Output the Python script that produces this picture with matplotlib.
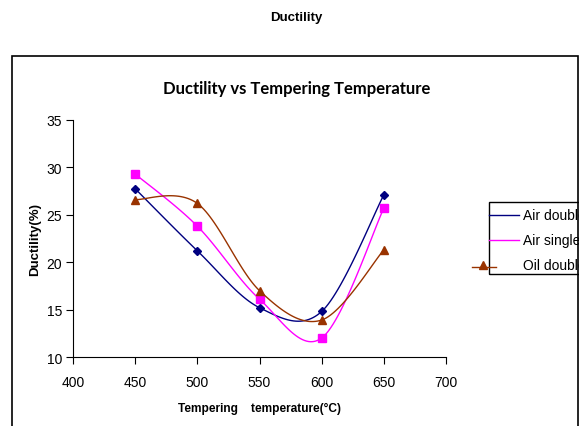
import numpy as np
import matplotlib.pyplot as plt
from matplotlib.patches import Rectangle
from matplotlib.lines import Line2D

temps = [450, 500, 550, 600, 650]
air_double = [27.75, 21.2, 15.2, 14.8, 27.1]
air_single = [29.3, 23.8, 16.1, 12.0, 25.7]
oil_double = [26.6, 26.2, 17.0, 13.9, 21.3]
series_names = ["Air double", "Air single", "Oil double"]


def smooth(x, y, n=30):
    # excel style smoothed line (catmull-rom through the points)
    p = np.column_stack([x, y]).astype(float)
    p = np.vstack([p[0], p, p[-1]])
    out = []
    for i in range(1, len(p) - 2):
        p0, p1, p2, p3 = p[i - 1], p[i], p[i + 1], p[i + 2]
        c1 = p1 + (p2 - p0) / 6
        c2 = p2 - (p3 - p1) / 6
        t = np.linspace(0, 1, n)[:, None]
        seg = (1 - t) ** 3 * p1 + 3 * (1 - t) ** 2 * t * c1 + 3 * (1 - t) * t ** 2 * c2 + t ** 3 * p2
        out.append(seg)
    out = np.vstack(out)
    return out[:, 0], out[:, 1]


W, H = 581, 427
fig = plt.figure(figsize=(W / 100, H / 100), dpi=100)
plt.rcParams['font.family'] = ['Liberation Sans', 'DejaVu Sans']

def fx(px):
    return px / W

def fy(py):
    return 1 - py / H

ax = fig.add_axes([fx(73), fy(358), fx(446) - fx(73), fy(121) - fy(358)])

styles = [("#000080", "D", 4.5), ("#FF00FF", "s", 5.5), ("#993300", "^", 6)]
for vals, (c, m, ms) in zip([air_double, air_single, oil_double], styles):
    sx, sy = smooth(temps, vals)
    ax.plot(sx, sy, color=c, lw=1.0)
    ax.plot(temps, vals, ls='none', marker=m, ms=ms, color=c, mec=c)

ax.set_xlim(400, 700)
ax.set_ylim(10, 35)
ax.set_xticks(range(400, 701, 50))
ax.set_yticks(range(10, 36, 5))
ax.tick_params(direction='out', length=5, width=0.8, labelsize=10)
ax.tick_params(axis='x', pad=8)
ax.tick_params(axis='y', pad=3)
for s in ['top', 'right']:
    ax.spines[s].set_visible(False)

fig.text(fx(259), fy(409), "Tempering    temperature(°C)", ha='center', va='center',
         fontsize=8.6, fontweight='bold')
fig.text(fx(35), fy(240), "Ductility(%)", ha='center', va='center', rotation=90,
         fontsize=9.5, fontweight='bold')

fig.text(fx(296), fy(18), "Ductility", ha='center', va='center', fontsize=9.5, fontweight='bold')
fig.text(fx(297), fy(89), "Ductility vs Tempering Temperature", ha='center', va='center',
         fontsize=12, fontweight='bold', family=['Lato', 'DejaVu Sans'])

# legend drawn by hand (partly cut off by the chart frame)
fig.add_artist(Rectangle((fx(489), fy(275)), fx(600) - fx(489), fy(203) - fy(275),
                         transform=fig.transFigure, fill=False, ec='black', lw=1.0))
leg_y = [216, 241, 266]
for name, (c, m, ms), yy in zip(series_names, styles, leg_y):
    if name == "Oil double":
        fig.add_artist(Line2D([fx(472), fx(496)], [fy(yy + 2), fy(yy + 2)], color=c, lw=1.0,
                              transform=fig.transFigure))
        fig.add_artist(Line2D([fx(483)], [fy(yy)], color=c, marker=m, ms=6,
                              transform=fig.transFigure))
    else:
        fig.add_artist(Line2D([fx(489), fx(519)], [fy(yy), fy(yy)], color=c, lw=1.0,
                              transform=fig.transFigure))
    fig.text(fx(523), fy(yy), name, ha='left', va='center', fontsize=10)

# chart frame
fig.add_artist(Rectangle((fx(578.5), 0), 1, 1, transform=fig.transFigure,
                         fc='white', ec='none', zorder=10))
fig.add_artist(Rectangle((fx(12), fy(440)), fx(578) - fx(12), fy(57) - fy(440),
                         transform=fig.transFigure, fill=False, ec='black', lw=1.2, zorder=11))

fig.savefig("out.png", dpi=100)
